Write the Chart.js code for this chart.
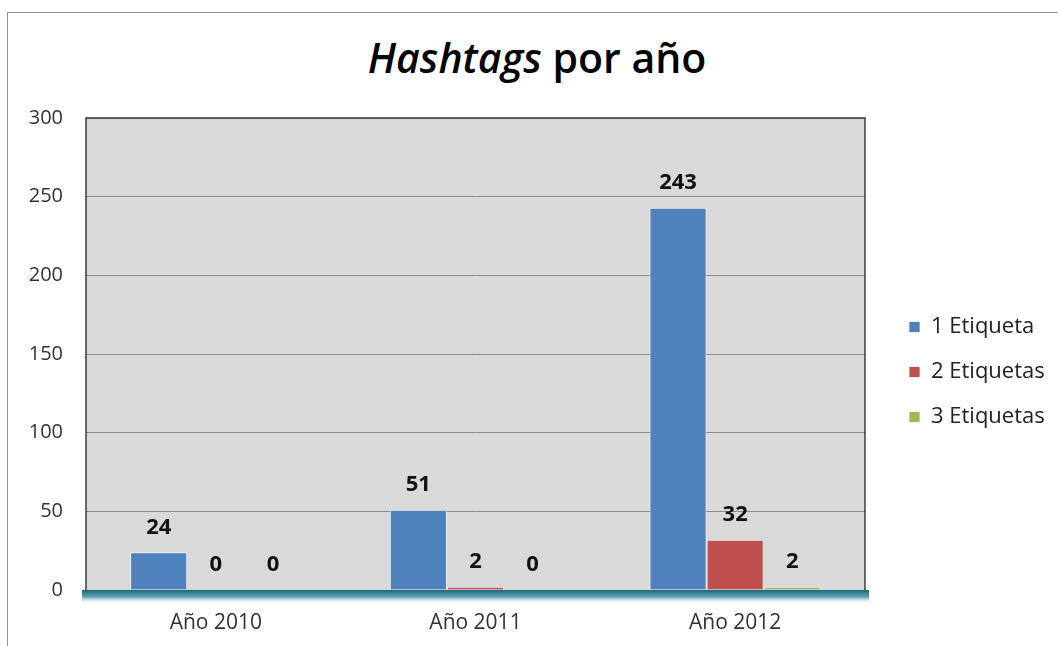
<!DOCTYPE html>
<html>
<head>
<meta charset="utf-8">
<script src="https://cdn.jsdelivr.net/npm/chart.js@4.4.1/dist/chart.umd.min.js"></script>
<style>
    body { margin: 0; background: #fff; }
    #wrap { position: relative; width: 1058px; height: 646px; overflow: hidden; }
    #frame { position: absolute; left: 7px; top: 12px; width: 1100px; height: 700px; border-left: 1.5px solid #8f8f8f; border-top: 1.5px solid #8f8f8f; }
    #title { position: absolute; left: 0; top: 34px; width: 1074px; margin: 0; text-align: center; font: 600 41px/46px 'Open Sans'; color: #000; }
    #title i { font-style: italic; }
    canvas { position: absolute; left: 0; top: 0; }
</style>
</head>
<body>
<div id="wrap">
    <div id="frame"></div>
    <h1 id="title"><i>Hashtags</i> por año</h1>
    <canvas id="hashtags" width="1058" height="646"></canvas>
</div>
<script>
'use strict'
var years = ['Año 2010', 'Año 2011', 'Año 2012'];
var unaEtiqueta = [24, 51, 243];
var dosEtiquetas = [0, 2, 32];
var tresEtiquetas = [0, 0, 2];
var yMax = 300;
var yStep = 50;

/* gray plot background */
var plotBackground = {
    id: 'plotBackground',
    beforeDraw: function (chart) {
        var a = chart.chartArea, ctx = chart.ctx;
        ctx.save();
        ctx.fillStyle = '#d9d9d9';
        ctx.fillRect(a.left, a.top, a.width, a.height);
        ctx.restore();
    }
};

/* plot border and the teal floor under the bars */
var plotFrame = {
    id: 'plotFrame',
    afterDatasetsDraw: function (chart) {
        var a = chart.chartArea, ctx = chart.ctx;
        ctx.save();
        var g = ctx.createLinearGradient(0, a.bottom, 0, a.bottom + 14);
        g.addColorStop(0, '#1d6478');
        g.addColorStop(0.5, 'rgba(60,140,165,0.8)');
        g.addColorStop(1, 'rgba(255,255,255,0)');
        ctx.fillStyle = g;
        ctx.fillRect(a.left - 4, a.bottom, a.width + 8, 14);
        ctx.strokeStyle = '#3c3c3c';
        ctx.lineWidth = 1.5;
        ctx.beginPath();
        ctx.moveTo(a.left, a.bottom);
        ctx.lineTo(a.left, a.top);
        ctx.lineTo(a.right, a.top);
        ctx.lineTo(a.right, a.bottom);
        ctx.stroke();
        ctx.restore();
    }
};

/* value above each bar */
var valueLabels = {
    id: 'valueLabels',
    afterDatasetsDraw: function (chart) {
        var ctx = chart.ctx;
        ctx.save();
        ctx.font = 'bold 22px "Open Sans"';
        ctx.fillStyle = '#111';
        ctx.textAlign = 'center';
        ctx.textBaseline = 'middle';
        chart.data.datasets.forEach(function (ds, i) {
            chart.getDatasetMeta(i).data.forEach(function (bar, j) {
                ctx.fillText(ds.data[j], bar.x, bar.y - 25);
            });
        });
        ctx.restore();
    }
};

/* fixed legend width */
var legendWidth = {
    id: 'legendWidth',
    beforeInit: function (chart) {
        var fit = chart.legend.fit;
        chart.legend.fit = function () {
            fit.call(this);
            this.width = 172;
        };
    }
};

var ctx = document.getElementById('hashtags').getContext('2d');
var hashtagsChart = new Chart(ctx, {
    type: 'bar',
    data: {
        labels: years,
        datasets: [{
            label: '1 Etiqueta',
            data: unaEtiqueta,
            backgroundColor: '#4f81bd',
            borderColor: 'rgba(255,255,255,0.75)',
            borderWidth: 1
        }, {
            label: '2 Etiquetas',
            data: dosEtiquetas,
            backgroundColor: '#c0504d',
            borderColor: 'rgba(255,255,255,0.75)',
            borderWidth: 1
        }, {
            label: '3 Etiquetas',
            data: tresEtiquetas,
            backgroundColor: '#9bbb59',
            borderColor: 'rgba(255,255,255,0.75)',
            borderWidth: 1
        }]
    },
    options: {
        responsive: false,
        animation: false,
        categoryPercentage: 0.66,
        barPercentage: 1.0,
        layout: {
            padding: { top: 108, left: 8, right: 0, bottom: 10 }
        },
        plugins: {
            // empty spacer above the plot only (heading is the html h1)
            title: {
                display: true,
                text: '',
                fullSize: false,
                padding: 0,
                font: { size: 10, lineHeight: 1 }
            },
            tooltip: { enabled: false },
            legend: {
                position: 'right',
                labels: {
                    boxWidth: 11,
                    boxHeight: 11,
                    padding: 23,
                    color: '#222',
                    font: { family: 'Open Sans', size: 22 }
                }
            }
        },
        scales: {
            x: {
                grid: { display: false, drawTicks: false },
                border: { display: false },
                ticks: {
                    padding: 20,
                    color: '#333',
                    font: { family: 'Open Sans', size: 21 }
                },
                afterFit: function (scale) { scale.height = 46; }
            },
            y: {
                min: 0,
                max: yMax,
                grid: { color: '#8a8a8a', lineWidth: 1, drawTicks: false },
                border: { display: false },
                ticks: {
                    stepSize: yStep,
                    padding: 23,
                    color: '#333',
                    font: { family: 'Open Sans', size: 20 }
                },
                afterFit: function (scale) { scale.width = 78; }
            },
            gap: {
                type: 'linear',
                position: 'right',
                grid: { display: false },
                border: { display: false },
                ticks: { display: false },
                afterFit: function (scale) { scale.width = 21; }
            }
        }
    },
    plugins: [legendWidth, plotBackground, plotFrame, valueLabels]
});
</script>
</body>
</html>
